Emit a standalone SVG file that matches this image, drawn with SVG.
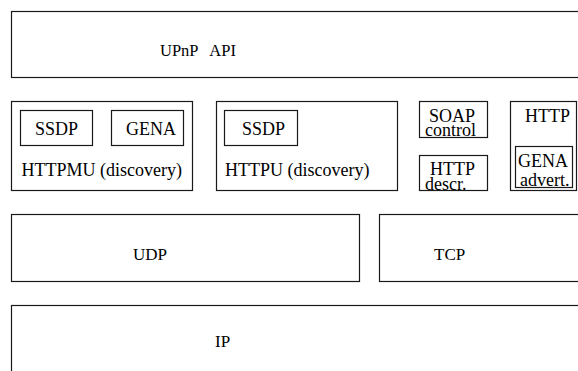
<svg xmlns="http://www.w3.org/2000/svg" width="578" height="371" viewBox="0 0 578 371" font-family="'Liberation Serif', 'DejaVu Serif', 'Times New Roman', serif">
  <style>
    .box { fill: #fff; stroke: #1a1a1a; stroke-width: 1.2; }
    text { font-family: "Liberation Serif", "DejaVu Serif", "Times New Roman", serif; font-size: 18px; fill: #000; }
    text.big { font-size: 17px; }
    text.api { font-size: 16.5px; }
  </style>
  <rect width="578" height="371" fill="#fff"/>

  <!-- application layer -->
  <g id="upnp-api">
    <rect class="box" x="11.5" y="11.5" width="580" height="66"/>
    <text class="api" x="160" y="56" xml:space="preserve">UPnP   API</text>
  </g>

  <!-- multicast discovery -->
  <g id="httpmu">
    <rect class="box" x="11.5" y="101.5" width="181" height="89"/>
    <text x="21.5" y="176">HTTPMU (discovery)</text>
  </g>
  <g id="httpmu-ssdp">
    <rect class="box" x="20.5" y="110.5" width="72" height="35"/>
    <text x="35" y="135">SSDP</text>
  </g>
  <g id="httpmu-gena">
    <rect class="box" x="111.5" y="110.5" width="72" height="35"/>
    <text x="126" y="135">GENA</text>
  </g>

  <!-- unicast discovery -->
  <g id="httpu">
    <rect class="box" x="216.5" y="101.5" width="181" height="89"/>
    <text x="225" y="176">HTTPU (discovery)</text>
  </g>
  <g id="httpu-ssdp">
    <rect class="box" x="224.5" y="110.5" width="73" height="35"/>
    <text x="242" y="135">SSDP</text>
  </g>

  <!-- control and description -->
  <g id="soap-control">
    <rect class="box" x="419.5" y="101.5" width="68" height="36"/>
    <text x="429" y="122">SOAP</text>
    <text x="425" y="136">control</text>
  </g>
  <g id="http-descr">
    <rect class="box" x="419.5" y="155.5" width="68" height="35"/>
    <text x="430" y="175">HTTP</text>
    <text x="425" y="190">descr.</text>
  </g>

  <!-- eventing over HTTP -->
  <g id="http">
    <rect class="box" x="510.5" y="101.5" width="66" height="89"/>
    <text x="525" y="122">HTTP</text>
  </g>
  <g id="gena-advert">
    <rect class="box" x="515.5" y="146.5" width="57" height="41"/>
    <text x="518" y="167">GENA</text>
    <text x="520" y="186">advert.</text>
  </g>

  <!-- transport layer -->
  <g id="udp">
    <rect class="box" x="11.5" y="214.5" width="348" height="67"/>
    <text class="big" x="133" y="260">UDP</text>
  </g>
  <g id="tcp">
    <rect class="box" x="379.5" y="214.5" width="220" height="67"/>
    <text class="big" x="434" y="260">TCP</text>
  </g>

  <!-- network layer -->
  <g id="ip">
    <rect class="box" x="11.5" y="305.5" width="590" height="90"/>
    <text class="big" x="215" y="347">IP</text>
  </g>

  <g id="connectors"/>
</svg>
